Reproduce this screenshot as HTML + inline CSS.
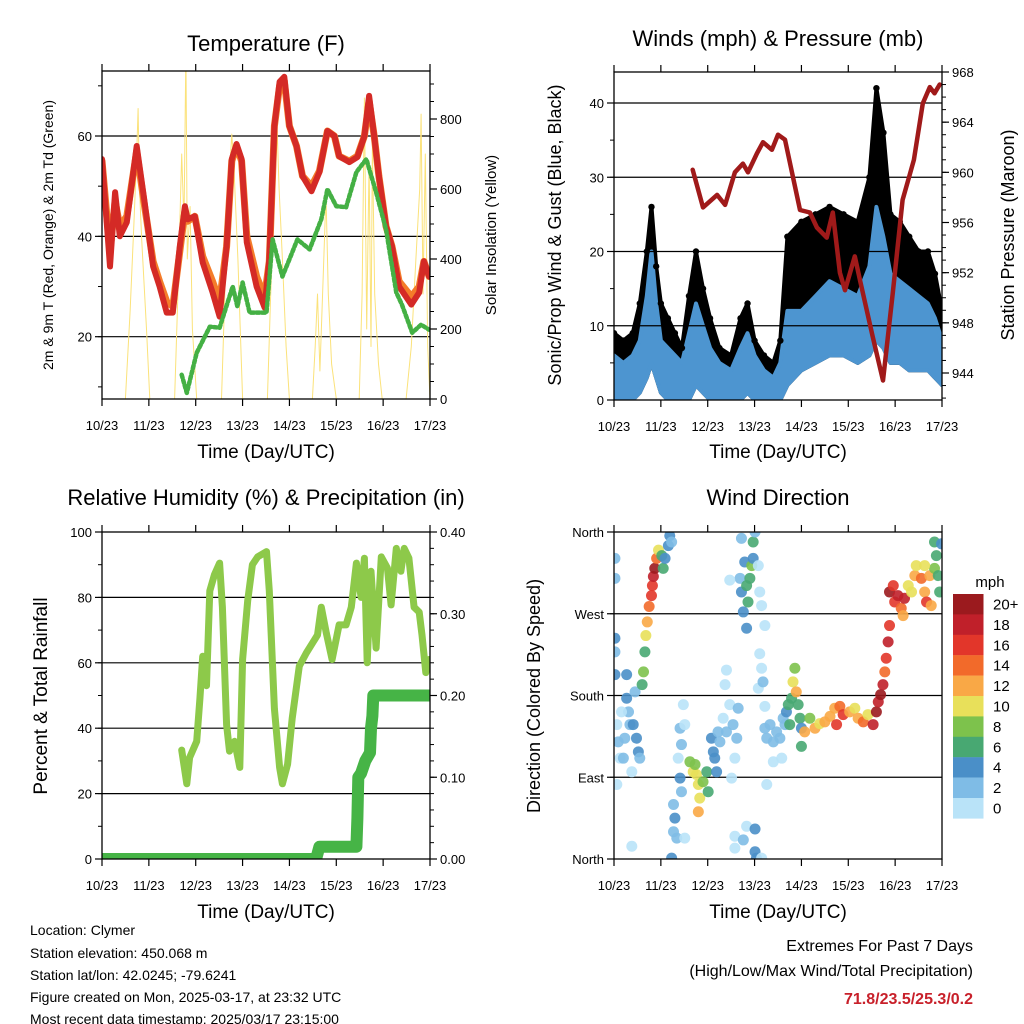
<!DOCTYPE html>
<html><head><meta charset="utf-8"><style>
html,body{margin:0;padding:0;background:#fff;}
svg{display:block;font-family:"Liberation Sans",sans-serif;}
</style></head><body>
<svg id="chart" width="1024" height="1024" viewBox="0 0 1024 1024" xmlns="http://www.w3.org/2000/svg">
<defs>
<clipPath id="c1"><rect x="102" y="71" width="328" height="328"/></clipPath>
<clipPath id="c2"><rect x="614" y="72" width="328" height="328"/></clipPath>
<clipPath id="c3"><rect x="102" y="532" width="328" height="327"/></clipPath>
<clipPath id="c4"><rect x="614" y="532" width="328" height="327"/></clipPath>
</defs>
<text x="266" y="51" font-size="22" text-anchor="middle">Temperature (F)</text>
<text x="778" y="46" font-size="22" text-anchor="middle">Winds (mph) &amp; Pressure (mb)</text>
<text x="266" y="505" font-size="22" text-anchor="middle">Relative Humidity (%) &amp; Precipitation (in)</text>
<text x="778" y="505" font-size="22" text-anchor="middle">Wind Direction</text>
<text x="266" y="458" font-size="19" text-anchor="middle">Time (Day/UTC)</text>
<text x="778" y="458" font-size="19" text-anchor="middle">Time (Day/UTC)</text>
<text x="266" y="918" font-size="19" text-anchor="middle">Time (Day/UTC)</text>
<text x="778" y="918" font-size="19" text-anchor="middle">Time (Day/UTC)</text>
<text transform="translate(53,235) rotate(-90)" font-size="14" text-anchor="middle">2m &amp; 9m T (Red, Orange) &amp; 2m Td (Green)</text>
<text transform="translate(496,235) rotate(-90)" font-size="15" text-anchor="middle">Solar Insolation (Yellow)</text>
<text transform="translate(561,235) rotate(-90)" font-size="18" text-anchor="middle">Sonic/Prop Wind &amp; Gust (Blue, Black)</text>
<text transform="translate(1014,235) rotate(-90)" font-size="18" text-anchor="middle">Station Pressure (Maroon)</text>
<text transform="translate(47,696) rotate(-90)" font-size="19" text-anchor="middle">Percent &amp; Total Rainfall</text>
<text transform="translate(540,696) rotate(-90)" font-size="18" text-anchor="middle">Direction (Colored By Speed)</text>
<g font-size="14">
<text x="30" y="935">Location: Clymer</text>
<text x="30" y="958">Station elevation: 450.068 m</text>
<text x="30" y="980">Station lat/lon: 42.0245; -79.6241</text>
<text x="30" y="1002">Figure created on Mon, 2025-03-17, at 23:32 UTC</text>
<text x="30" y="1024" dy="-0">Most recent data timestamp: 2025/03/17 23:15:00</text>
</g>
<g font-size="16" text-anchor="end">
<text x="973" y="951">Extremes For Past 7 Days</text>
<text x="973" y="976">(High/Low/Max Wind/Total Precipitation)</text>
<text x="973" y="1004" font-weight="bold" fill="#c8202a">71.8/23.5/25.3/0.2</text>
</g>
</svg>
<script>
// ---------- data ----------
const dayLabels = ["10/23","11/23","12/23","13/23","14/23","15/23","16/23","17/23"];
const tempDays = [0,0.17,0.28,0.38,0.53,0.74,0.91,1.09,1.23,1.38,1.51,1.66,1.77,1.83,1.98,2.15,2.36,2.51,2.66,2.77,2.87,2.98,3.09,3.3,3.47,3.57,3.68,3.79,3.89,4.0,4.15,4.28,4.47,4.64,4.81,4.96,5.06,5.28,5.45,5.6,5.7,5.81,5.91,6.06,6.19,6.34,6.6,6.77,6.87,6.98];
const temp2m = [55.4,34,48.8,40,42.8,58,46.8,34,30,24.8,24.8,38,46,43.4,44,34.8,28.8,24,38,55.4,58.4,55.4,38.8,30,25.8,35.4,62,70.8,71.8,62,58,52,49,52.8,61,60,56,54.8,55.8,60,68,60,52,42,38,30,26.4,28.8,35,32];
const temp9m = [55,37,47,42,44,57,46,35,31,27,26,37,45,43,44,36,31,27,38,55,58,55,40,32,28,35,62,70,71,62,58,52,50,53,61,60,56,55,56,60,67,60,52,42,38,31,28,30,35,32];
const dewDays = [1.7,1.81,2.02,2.3,2.51,2.79,2.89,3.0,3.15,3.51,3.64,3.85,4.0,4.17,4.43,4.68,4.81,5.0,5.21,5.43,5.64,5.85,6.06,6.28,6.4,6.62,6.81,6.98];
const dewVals = [12.4,8.8,16.8,22,21.8,30,26,30.8,24.8,24.8,39.4,32,35.4,39.4,37.4,43.4,49.4,46,45.8,52.8,55.4,48.8,41.4,28.8,26.4,20.8,22.4,21.4];
const solarDays = [0,0.5,0.6,0.68,0.74,0.77,0.8,0.85,0.95,1.02,1.55,1.62,1.7,1.75,1.79,1.82,1.88,1.93,2.02,2.55,2.62,2.7,2.77,2.82,2.9,3.0,3.53,3.6,3.7,3.74,3.78,3.85,3.93,4.0,4.49,4.55,4.6,4.65,4.72,4.78,4.83,4.9,5.0,5.49,5.55,5.6,5.65,5.7,5.74,5.77,5.82,5.9,5.98,6.49,6.6,6.7,6.78,6.81,6.85,6.9,6.95,7.0];
const solarVals = [0,0,250,500,700,830,600,450,200,0,0,300,700,500,1000,400,550,200,0,0,300,600,757,650,400,0,0,300,650,766,600,400,150,0,0,150,300,80,350,586,300,100,0,0,300,860,200,680,150,730,300,100,0,0,150,400,600,814,300,700,150,0];
const windDays = [0,0.2,0.4,0.55,0.7,0.8,0.9,1.0,1.15,1.3,1.45,1.6,1.75,1.9,2.05,2.25,2.5,2.7,2.85,3.0,3.2,3.4,3.55,3.7,4.0,4.3,4.6,4.9,5.2,5.45,5.6,5.75,5.9,6.1,6.3,6.5,6.7,6.85,7.0];
const gustHi = [9,8,9,13,20,26,18,13,11,9,7,14,20,15,11,7,6,11,13,8,6,5,8,22,24,25,26,25,24,30,42,36,25,24,22,20,20,17,12];
const gustLo = [0,1,1,3,5,8,6,3,2,1,0,1,5,3,1,0,0,1,2,1,0,0,1,4,6,7,7,7,6,8,10,9,7,7,6,5,5,4,3];
const sustHi = [6,5,6,8,14,20,13,8,7,6,5,9,13,10,7,5,4,7,9,6,4,3,5,12,12,14,16,15,14,18,26,22,17,16,15,14,13,11,8];
const sustLo = [0,0,0,1,3,5,3,1,0,0,0,0,2,1,0,0,0,0,1,0,0,0,0,2,4,5,6,6,5,6,8,7,5,5,4,4,4,3,2];
const presDays = [1.68,1.9,2.2,2.37,2.58,2.75,2.86,3.05,3.18,3.37,3.5,3.65,3.97,4.18,4.33,4.54,4.67,4.82,4.93,5.14,5.25,5.52,5.74,5.95,6.16,6.31,6.4,6.59,6.74,6.84,6.95];
const presVals = [960.2,957.2,958.2,957.4,960.0,960.7,960.0,961.5,962.4,961.8,963.0,962.6,957.0,956.8,955.6,954.8,956.8,952.0,950.6,953.3,951.4,946.9,943.4,950.4,957.8,959.8,961.0,965.5,966.8,966.3,967.0];
const rhDays = [1.7,1.81,1.87,2.02,2.09,2.15,2.23,2.3,2.4,2.51,2.57,2.66,2.72,2.83,2.94,3.0,3.11,3.21,3.32,3.51,3.57,3.68,3.79,3.85,3.96,4.06,4.21,4.36,4.49,4.6,4.68,4.79,4.91,5.06,5.21,5.32,5.43,5.53,5.6,5.66,5.74,5.85,5.96,6.09,6.17,6.28,6.38,6.45,6.55,6.66,6.77,6.83,6.91,6.98];
const rhVals = [33.3,23,31,36,49,62,53,82,87,90.5,77,41,33,36,28,61,79,90,92.4,94,82,46,28,23,29,43,59,63,66,68.5,77,69,61,71.6,71.6,77,90.5,80,92,60,88,64.5,92.4,89,77.7,95,88,95,92,77,75.5,68.5,57,61];
const precipDays = [0,4.57,4.64,5.43,5.45,5.47,5.53,5.62,5.72,5.74,5.77,5.79,7.0];
const precipVals = [0,0,0.015,0.015,0.05,0.1,0.105,0.12,0.13,0.16,0.175,0.2,0.2];
const dirDays = [0.02,0.02,0.02,0.02,0.02,0.06,0.09,0.13,0.06,0.27,0.27,0.31,0.34,0.23,0.41,0.48,0.52,0.2,0.38,0.55,0.16,0.45,0.6,0.63,0.66,0.68,0.71,0.75,0.8,0.82,0.84,0.87,0.91,0.95,1.02,1.05,1.09,1.16,1.19,1.23,1.27,1.3,1.27,1.34,1.23,1.51,0.38,1.41,1.44,1.37,1.48,1.51,1.41,1.44,1.62,1.69,1.76,1.8,1.83,1.8,1.9,1.98,2.01,1.73,2.08,2.12,2.15,2.19,2.22,2.26,2.33,2.4,2.47,2.54,2.62,2.58,2.51,2.37,2.4,2.65,2.69,2.72,2.76,2.79,2.83,2.86,2.9,2.94,2.97,2.97,2.83,3.08,3.11,3.15,3.22,2.72,2.47,3.01,2.58,2.76,2.83,3.01,3.01,3.04,3.15,2.58,3.11,3.15,3.08,3.18,3.22,3.26,3.22,3.26,3.33,3.4,3.47,3.54,3.61,3.4,3.58,3.68,3.65,3.72,3.75,3.79,3.82,3.86,3.89,3.93,3.97,4.0,4.0,4.07,4.18,4.29,4.39,4.5,4.61,4.71,4.82,4.89,4.75,5.03,5.14,5.21,5.32,5.42,5.53,5.6,5.64,5.69,5.74,5.78,5.81,5.85,5.88,5.88,5.96,5.99,6.06,6.13,6.17,6.2,6.28,6.35,6.42,6.45,6.56,6.63,6.67,6.74,6.77,6.84,6.88,6.92,6.95,6.84,6.99,6.63];
const dirDeg = [331,309,243,228,203,148,129,111,82,203,177,162,148,133,148,133,118,111,96,111,162,184,192,206,228,246,261,278,290,301,311,320,331,340,334,320,331,345,356,349,60,45,30,23,1,23,14,144,126,111,170,148,89,74,107,96,93,82,67,52,85,96,74,104,133,118,111,96,140,129,155,140,170,148,133,111,89,192,208,166,309,294,272,327,301,283,309,323,349,331,254,323,294,279,257,353,307,360,25,21,36,33,8,1,1,12,226,210,188,195,168,82,144,133,148,129,140,133,155,107,111,162,148,170,148,177,195,210,184,170,155,144,124,140,155,144,149,151,157,166,168,159,148,162,166,155,151,159,148,162,173,181,192,206,221,239,257,294,301,283,290,276,268,287,301,294,312,323,309,294,283,312,279,320,334,312,294,349,347,323];
const dirSpd = [2,3,4,3,4,1,2,1,0,4,4,3,2,2,4,4,4,2,1,3,1,2,6,8,7,10,12,14,16,17,19,20,14,11,7,6,5,4,4,2,3,4,3,2,4,1,1,2,3,1,1,1,4,3,8,10,10,10,10,12,9,7,6,9,4,4,5,4,3,2,1,2,1,2,2,1,1,1,0,2,3,4,4,4,6,7,7,8,6,5,4,1,1,0,1,2,1,2,1,3,1,4,4,4,1,1,1,1,0,2,1,1,3,3,2,3,2,2,3,1,1,4,2,7,6,7,10,9,12,7,7,4,6,12,8,12,11,12,13,12,15,16,17,12,10,12,14,11,18,20,19,20,18,15,17,18,17,20,16,17,18,15,13,18,11,10,12,10,14,13,16,13,12,8,6,7,6,6,4,11];
const speedLabels = ["20+","18","16","14","12","10","8","6","4","2","0"];
const speedColors = ["#9b1a1e","#c0202a","#e2362a","#f26a2a","#f9a846","#e8e05a","#7dc24c","#48a872","#4a8fc8","#7fbce6","#b9e3f8"];

// ---------- helpers ----------
const NS = "http://www.w3.org/2000/svg";
const svg = document.getElementById("chart");
function mk(tag, attrs, parent) {
  const e = document.createElementNS(NS, tag);
  for (const k in attrs) e.setAttribute(k, attrs[k]);
  (parent || svg).appendChild(e);
  return e;
}
function lin(d0, d1, r0, r1) { return v => r0 + (v - d0) * (r1 - r0) / (d1 - d0); }

const P = [
  {x0:102,x1:430,y0:71,y1:399,clip:"c1"},
  {x0:614,x1:942,y0:72,y1:400,clip:"c2"},
  {x0:102,x1:430,y0:532,y1:859,clip:"c3"},
  {x0:614,x1:942,y0:532,y1:859,clip:"c4"}
];
P.forEach(p => { p.x = lin(0, 7, p.x0, p.x1); });

const yTemp = lin(20, 60, 336.7, 136);
const ySolar = lin(0, 800, 399, 119);
const yWind = lin(0, 40, 400, 103);
const yPres = lin(944, 968, 373, 72);
const yRH = lin(0, 100, 859, 532);
const yPrec = lin(0, 0.4, 859, 532);
const yDir = lin(0, 360, 859, 532);

function gridline(p, y, name) {
  const l = mk("line", {x1:p.x0, x2:p.x1, y1:y, y2:y, stroke:"#000", "stroke-width":1.2});
  
  
}
function frame(p, name) {
  const r = mk("rect", {x:p.x0, y:p.y0, width:p.x1-p.x0, height:p.y1-p.y0, fill:"none", stroke:"#000", "stroke-width":1.3});
  
  
}
function xAxis(p, name) {
  const g = mk("g", {});
  
  
  dayLabels.forEach((lab, i) => {
    const x = p.x(i);
    mk("line", {x1:x, x2:x, y1:p.y1, y2:p.y1+7, stroke:"#000", "stroke-width":1.2}, g);
    mk("line", {x1:x, x2:x, y1:p.y0, y2:p.y0-7, stroke:"#000", "stroke-width":1.2}, g);
    const t = mk("text", {x:x, y:p.y1+31, "font-size":13, "text-anchor":"middle"}, g);
    t.textContent = lab;
  });
}
function yAxis(p, side, vals, scale, fmt, minorStep, lo, hi, name) {
  const g = mk("g", {});
  
  
  const xe = side === "left" ? p.x0 : p.x1;
  const dir = side === "left" ? -1 : 1;
  for (let v = lo; v <= hi + 1e-9; v += minorStep) {
    const y = scale(v);
    if (y < p.y0 - 0.5 || y > p.y1 + 0.5) continue;
    mk("line", {x1:xe, x2:xe+dir*4, y1:y, y2:y, stroke:"#000", "stroke-width":1}, g);
  }
  vals.forEach(v => {
    const y = scale(v);
    mk("line", {x1:xe, x2:xe+dir*7, y1:y, y2:y, stroke:"#000", "stroke-width":1.2}, g);
    const t = mk("text", {x:xe+dir*10, y:y+5, "font-size":13, "text-anchor": side === "left" ? "end" : "start"}, g);
    t.textContent = fmt(v);
  });
}
function pathFrom(xs, ys) {
  return xs.map((x, i) => (i ? "L" : "M") + x.toFixed(1) + "," + ys[i].toFixed(1)).join(" ");
}
function series(p, days, vals, ys, attrs, name) {
  const d = pathFrom(days.map(p.x), vals.map(ys));
  const a = Object.assign({d:d, fill:"none", "stroke-linejoin":"round", "stroke-linecap":"round", "clip-path":"url(#"+p.clip+")"}, attrs);
  const e = mk("path", a);
  
  
  return e;
}
function band(p, days, lo, hi, ys, color, name) {
  const xs = days.map(p.x);
  const top = pathFrom(xs, hi.map(ys));
  const bot = xs.slice().reverse().map((x, i) => "L" + x.toFixed(1) + "," + ys(lo[lo.length-1-i]).toFixed(1)).join(" ");
  const e = mk("path", {d: top + " " + bot + " Z", fill:color, stroke:color, "stroke-width":4, "stroke-linejoin":"round", "clip-path":"url(#"+p.clip+")"});
  
  
}

// ---------- panel 1: temperature ----------
{
  const p = P[0];
  [20,40,60].forEach(v => gridline(p, yTemp(v), "temp-gridline-" + v));
  series(p, solarDays, solarVals, ySolar, {stroke:"#fbe27a", "stroke-width":1}, "solar-insolation-line");
  series(p, tempDays, temp9m, yTemp, {stroke:"#f47c2a", "stroke-width":7}, "temp-9m-line");
  series(p, tempDays, temp2m, yTemp, {stroke:"#d42a26", "stroke-width":6}, "temp-2m-line");
  series(p, dewDays, dewVals, yTemp, {stroke:"#44b044", "stroke-width":4.5, "stroke-dasharray":"3 2.5"}, "dewpoint-line");
  frame(p, "temperature-plot-frame");
  xAxis(p, "temperature-x-axis");
  yAxis(p, "left", [20,40,60], yTemp, v => String(v), 10, 10, 70, "temperature-y-axis");
  yAxis(p, "right", [0,200,400,600,800], ySolar, v => String(v), 50, 0, 900, "solar-y-axis");
}

// ---------- panel 2: winds & pressure ----------
{
  const p = P[1];
  band(p, windDays, sustLo, gustHi, yWind, "#000", "gust-band");
  band(p, windDays, sustLo, sustHi, yWind, "#4d95d0", "wind-speed-band");
  windDays.forEach((d, i) => {
    const c = mk("circle", {cx:p.x(d), cy:yWind(gustHi[i]), r:3.2, fill:"#000", "clip-path":"url(#c2)"});
    
    
  });
  [10,20,30,40].forEach(v => gridline(p, yWind(v), "wind-gridline-" + v));
  series(p, presDays, presVals, yPres, {stroke:"#a01a1a", "stroke-width":4.5}, "pressure-line");
  frame(p, "winds-plot-frame");
  xAxis(p, "winds-x-axis");
  yAxis(p, "left", [0,10,20,30,40], yWind, v => String(v), 5, 0, 44, "wind-y-axis");
  yAxis(p, "right", [944,948,952,956,960,964,968], yPres, v => String(v), 1, 942, 970, "pressure-y-axis");
}

// ---------- panel 3: RH & precip ----------
{
  const p = P[2];
  [20,40,60,80].forEach(v => gridline(p, yRH(v), "rh-gridline-" + v));
  series(p, rhDays, rhVals, yRH, {stroke:"#8dc94a", "stroke-width":7}, "relative-humidity-line");
  series(p, precipDays, precipVals, yPrec, {stroke:"#46b446", "stroke-width":12}, "precipitation-line");
  frame(p, "humidity-plot-frame");
  xAxis(p, "humidity-x-axis");
  yAxis(p, "left", [0,20,40,60,80,100], yRH, v => String(v), 10, 0, 100, "rh-y-axis");
  yAxis(p, "right", [0,0.1,0.2,0.3,0.4], yPrec, v => v.toFixed(2), 0.02, 0, 0.4, "precip-y-axis");
}

// ---------- panel 4: wind direction ----------
{
  const p = P[3];
  [90,180,270].forEach(v => gridline(p, yDir(v), "direction-gridline-" + v));
  dirDays.forEach((d, i) => {
    const idx = 10 - Math.min(10, Math.floor(dirSpd[i] / 2));
    const c = mk("circle", {cx:p.x(d), cy:yDir(dirDeg[i]), r:5.5, fill:speedColors[idx], "fill-opacity":0.9, "clip-path":"url(#c4)"});
    
    
  });
  frame(p, "direction-plot-frame");
  xAxis(p, "direction-x-axis");
  const dirTicks = [0,90,180,270,360];
  const dirNames = ["North","East","South","West","North"];
  yAxis(p, "left", dirTicks, yDir, v => dirNames[dirTicks.indexOf(v)], 90, 0, 360, "direction-y-axis");
  const g = mk("g", {});
  
  
  const t0 = mk("text", {x:990, y:587, "font-size":15, "text-anchor":"middle"}, g);
  t0.textContent = "mph";
  speedLabels.forEach((lab, i) => {
    const y = 594 + i * 20.4;
    const r = mk("rect", {x:953, y:y, width:30.5, height:20.6, fill:speedColors[i]}, g);
    
    
    const t = mk("text", {x:993, y:y + 15.5, "font-size":15}, g);
    t.textContent = lab;
  });
}
</script>
</body></html>
